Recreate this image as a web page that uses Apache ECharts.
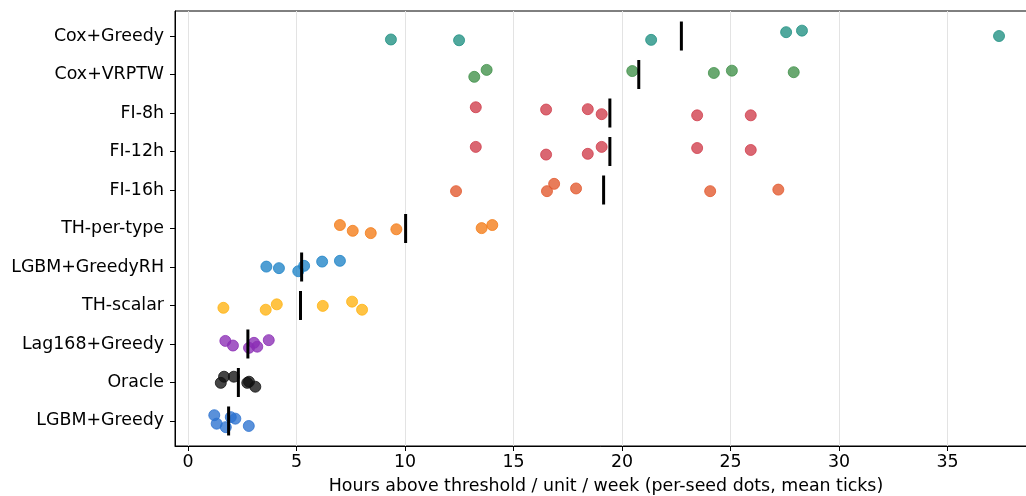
<!DOCTYPE html>
<html>
<head>
<meta charset="utf-8">
<script src="https://cdn.jsdelivr.net/npm/echarts@6/dist/echarts.min.js"></script>
<style>
  html, body { margin: 0; padding: 0; background: #fff; }
  #chart { width: 1026px; height: 496px; }
</style>
</head>
<body>
<div id="chart"></div>
<script>
// methods, top to bottom
const methods = ['Cox+Greedy', 'Cox+VRPTW', 'FI-8h', 'FI-12h', 'FI-16h', 'TH-per-type',
  'LGBM+GreedyRH', 'TH-scalar', 'Lag168+Greedy', 'Oracle', 'LGBM+Greedy']

// per-seed values (hours above threshold / unit / week)
const coxGreedy = [9.35, 12.49, 21.34, 27.56, 28.29, 37.37]
const coxVrptw = [13.76, 13.19, 20.47, 24.23, 25.06, 27.91]
const fi8h = [13.26, 16.50, 18.42, 19.06, 23.46, 25.93]
const fi12h = [13.26, 16.50, 18.42, 19.06, 23.46, 25.93]
const fi16h = [12.35, 16.54, 16.87, 17.88, 24.06, 27.20]
const thPerType = [7.00, 7.59, 8.42, 9.60, 13.53, 14.02]
const lgbmGreedyRH = [3.61, 4.19, 5.08, 5.35, 6.18, 7.00]
const thScalar = [1.63, 3.58, 4.09, 6.21, 7.56, 8.02]
const lag168 = [1.72, 2.07, 2.81, 3.04, 3.19, 3.72]
const oracle = [1.51, 1.66, 2.11, 2.73, 2.81, 3.10]
const lgbmGreedy = [1.21, 1.32, 1.74, 1.97, 2.18, 2.80]

// vertical jitter of each dot (category units, up is positive)
const jitCoxGreedy = [-0.09, -0.11, -0.10, 0.10, 0.14, 0.0]
const jitCoxVrptw = [0.12, -0.06, 0.09, 0.04, 0.10, 0.06]
const jitFi8h = [0.15, 0.09, 0.10, -0.03, -0.06, -0.06]
const jitFi12h = [0.12, -0.08, -0.06, 0.12, 0.09, 0.04]
const jitFi16h = [-0.03, -0.03, 0.16, 0.04, -0.03, 0.01]
const jitThPerType = [0.09, -0.06, -0.12, -0.02, 0.01, 0.09]
const jitLgbmGreedyRH = [0.01, -0.03, -0.11, 0.03, 0.14, 0.16]
const jitThScalar = [-0.06, -0.11, 0.03, -0.01, 0.10, -0.11]
const jitLag168 = [0.08, -0.04, -0.10, 0.03, -0.07, 0.10]
const jitOracle = [-0.01, 0.15, 0.15, -0.01, 0.02, -0.11]
const jitLgbmGreedy = [0.15, -0.07, -0.16, 0.10, 0.06, -0.13]

const colors = ['#1f8f82', '#3f8f48', '#cf3c4a', '#e2572b', '#f47b16', '#1e83c6',
  '#ffb20f', '#8a2db5', '#111111', '#2c72d0']

const values = [coxGreedy, coxVrptw, fi8h, fi12h, fi16h, thPerType, lgbmGreedyRH, thScalar, lag168, oracle, lgbmGreedy]
const jitters = [jitCoxGreedy, jitCoxVrptw, jitFi8h, jitFi12h, jitFi16h, jitThPerType, jitLgbmGreedyRH, jitThScalar, jitLag168, jitOracle, jitLgbmGreedy]
const colorOf = [0, 1, 2, 2, 3, 4, 5, 6, 7, 8, 9]

const n = methods.length
const xTicks = [0, 5, 10, 15, 20, 25, 30, 35]
const yPos = methods.map((m, i) => n - 1 - i)

var series = []
methods.forEach((m, i) => {
  const c = colors[colorOf[i]]
  series.push({
    name: m,
    type: 'scatter',
    symbolSize: 11,
    itemStyle: { color: c, opacity: 0.78, borderColor: c, borderWidth: 1 },
    data: values[i].map((v, j) => [v, yPos[i] + jitters[i][j]]),
    z: 3
  })
})
// mean ticks
series.push({
  name: 'mean',
  type: 'scatter',
  symbol: 'rect',
  symbolSize: [3, 29],
  itemStyle: { color: '#000', opacity: 1 },
  data: methods.map((m, i) => [values[i].reduce((a, b) => a + b, 0) / values[i].length, yPos[i]]),
  z: 5
})

var chart = echarts.init(document.getElementById('chart'))
var font = 'DejaVu Sans'
var option = {
  animation: false,
  grid: {
    left: 175, right: -11, top: 11, bottom: 50, outerBoundsMode: 'none', containLabel: false,
    show: true, borderColor: '#000', borderWidth: 1, backgroundColor: 'transparent'
  },
  xAxis: {
    type: 'value',
    min: -0.6,
    max: 39.12,
    name: 'Hours above threshold / unit / week (per-seed dots, mean ticks)',
    nameLocation: 'middle',
    nameGap: 32,
    nameTextStyle: { fontFamily: font, fontSize: 17.4, color: '#000' },
    axisLine: { show: true, onZero: false, lineStyle: { color: '#000' } },
    axisTick: { show: true, length: 5, customValues: xTicks, lineStyle: { color: '#000' } },
    axisLabel: { customValues: xTicks, fontFamily: font, fontSize: 17.4, color: '#000', margin: 8 },
    splitLine: { show: true, lineStyle: { color: '#e3e3e3', width: 1 } }
  },
  yAxis: {
    type: 'value',
    min: -0.65,
    max: 10.65,
    axisLine: { show: true, onZero: false, lineStyle: { color: '#000' } },
    axisTick: { show: true, length: 5, customValues: yPos, lineStyle: { color: '#000' } },
    axisLabel: {
      customValues: yPos,
      fontFamily: font, fontSize: 17.4, color: '#000', margin: 11,
      formatter: v => methods[n - 1 - Math.round(v)]
    },
    splitLine: { show: false }
  },
  series: series
}
option && chart.setOption(option)
</script>
</body>
</html>
